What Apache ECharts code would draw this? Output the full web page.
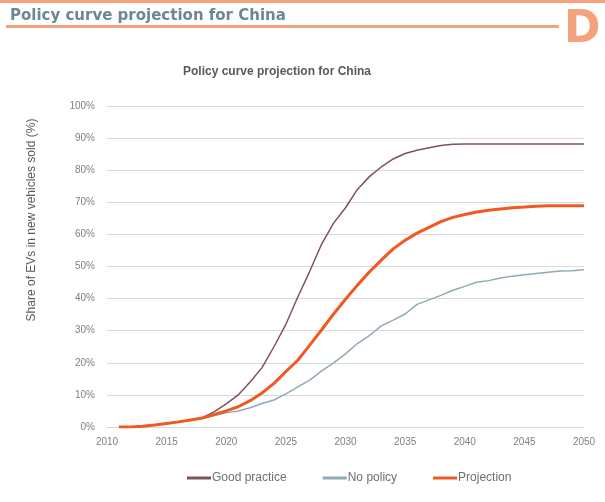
<!DOCTYPE html>
<html>
<head>
<meta charset="utf-8">
<script src="https://cdn.jsdelivr.net/npm/echarts@6/dist/echarts.min.js"></script>
<style>
  html, body { margin: 0; padding: 0; background: #fff; }
  #chart { width: 605px; height: 502px; }
</style>
</head>
<body>
<div id="chart"></div>
<script>
var years = [];
for (var y = 2011; y <= 2050; y++) years.push(y);

var goodPractice = [0, 0, 0.2, 0.6, 1.1, 1.6, 2.2, 2.9, 4.8, 7.2,
    10, 14, 18.5, 25, 32, 40.5, 48.5, 57, 63.5, 68.3,
    74, 78, 81, 83.5, 85.2, 86.2, 87, 87.7, 88.1, 88.2,
    88.2, 88.2, 88.2, 88.2, 88.2, 88.2, 88.2, 88.2, 88.2, 88.2];
var noPolicy = [0, 0, 0.2, 0.6, 1.1, 1.6, 2.2, 2.7, 3.6, 4.4,
    5, 6, 7.3, 8.4, 10.3, 12.5, 14.6, 17.5, 20, 22.8,
    26, 28.5, 31.5, 33.3, 35.2, 38.2, 39.6, 41, 42.6, 43.8,
    45.1, 45.6, 46.4, 47, 47.4, 47.8, 48.2, 48.6, 48.7, 49];
var projection = [0, 0, 0.2, 0.6, 1.1, 1.6, 2.2, 2.8, 3.9, 5,
    6.3, 8.2, 10.6, 13.6, 17.3, 20.8, 25.5, 30.3, 35.2, 39.8,
    44.2, 48.3, 52, 55.5, 58.2, 60.4, 62.2, 64, 65.3, 66.2,
    67, 67.5, 67.9, 68.3, 68.5, 68.8, 68.9, 68.9, 68.9, 68.9];

function pairs(vals) {
    return years.map(function (yr, i) { return [yr, vals[i]]; });
}

var chart = echarts.init(document.getElementById('chart'));
var option = {
    animation: false,
    textStyle: { fontFamily: 'Liberation Sans, Arial, sans-serif' },
    title: {
        text: 'Policy curve projection for China',
        left: 272,
        textAlign: 'center',
        top: 61,
        textStyle: { fontSize: 12, fontWeight: 'bold', color: '#595959' }
    },
    graphic: [
        { type: 'rect', shape: { x: 0, y: 0, width: 605, height: 3 }, style: { fill: '#F4A27C' } },
        { type: 'rect', shape: { x: 6, y: 25, width: 553, height: 3 }, style: { fill: '#F4A27C' } },
        {
            type: 'text', left: 10, top: 9,
            style: { text: 'Policy curve projection for China', fontSize: 15, fontWeight: 'bold', fill: '#6B8795', fontFamily: 'DejaVu Sans' }
        },
        {
            type: 'text', left: 564, top: 9,
            style: { text: 'D', fontSize: 44, fontWeight: 'bold', fill: '#F4A27C', fontFamily: 'DejaVu Sans' }
        },
        {
            type: 'text', x: 32, y: 220, rotation: Math.PI / 2,
            style: { text: 'Share of EVs in new vehicles sold (%)', fontSize: 12, fill: '#595959', align: 'center', verticalAlign: 'middle' }
        }
    ],
    legend: {
        top: 467,
        left: 182,
        itemGap: 36,
        itemWidth: 24,
        itemHeight: 3,
        icon: 'rect',
        textStyle: { fontSize: 12, color: '#6f6f6f', padding: [0, 0, 0, -4] },
        data: ['Good practice', 'No policy', 'Projection']
    },
    grid: { left: 107, right: 21, top: 106, bottom: 75 },
    xAxis: {
        type: 'value',
        min: 2010, max: 2050, interval: 5,
        axisLine: { lineStyle: { color: '#d9d9d9' } },
        axisTick: { show: false },
        splitLine: { show: false },
        axisLabel: { color: '#7f7f7f', fontSize: 10, margin: 10, formatter: function (v) { return String(v); } }
    },
    yAxis: {
        type: 'value',
        min: 0, max: 100, interval: 10,
        axisLine: { show: false },
        axisTick: { show: false },
        splitLine: { lineStyle: { color: '#d9d9d9', width: 1 } },
        axisLabel: { color: '#7f7f7f', fontSize: 10, formatter: '{value}%', margin: 12 }
    },
    series: [
        {
            name: 'Good practice', type: 'line', showSymbol: false, symbol: 'none',
            data: pairs(goodPractice),
            lineStyle: { color: '#7E5358', width: 1.5 }, itemStyle: { color: '#7E5358' }, z: 3
        },
        {
            name: 'No policy', type: 'line', showSymbol: false, symbol: 'none',
            data: pairs(noPolicy),
            lineStyle: { color: '#8FAAB5', width: 1.5 }, itemStyle: { color: '#8FAAB5' }, z: 2
        },
        {
            name: 'Projection', type: 'line', showSymbol: false, symbol: 'none',
            data: pairs(projection),
            lineStyle: { color: '#F05A22', width: 3 }, itemStyle: { color: '#F05A22' }, z: 4
        }
    ]
};
chart.setOption(option);
window.onresize = chart.resize;
</script>
</body>
</html>
